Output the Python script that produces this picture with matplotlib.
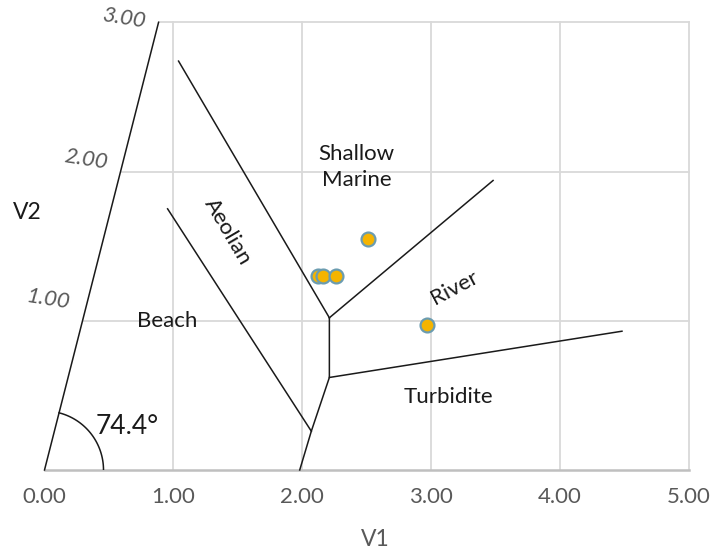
import numpy as np
import matplotlib
matplotlib.use("Agg")
import matplotlib.pyplot as plt

plt.rcParams["font.family"] = ["Lato", "DejaVu Sans"]

# axis ranges and tick values
x_ticks = [0.0, 1.0, 2.0, 3.0, 4.0, 5.0]
y_ticks = [1.0, 2.0, 3.0]
slant = 0.295          # V1 shift per unit V2 along the skewed V2 axis
axis_angle = "74.4°"

# sample points
v1 = [2.12, 2.16, 2.26, 2.51, 2.97]
v2 = [1.30, 1.30, 1.30, 1.55, 0.97]

# field boundaries (V1 list, V2 list)
boundaries = {
    "aeolian_upper": ([1.04, 2.21], [2.74, 1.02]),
    "beach_aeolian": ([0.955, 2.07], [1.75, 0.26]),
    "spine": ([2.21, 2.21, 2.07, 1.98], [1.02, 0.62, 0.26, 0.0]),
    "marine_river": ([2.21, 3.48], [1.02, 1.94]),
    "river_turbidite": ([2.21, 4.48], [0.62, 0.93]),
}

# field names: (text, V1, V2, rotation)
fields = [
    ("Shallow\nMarine", 2.42, 2.03, 0),
    ("Aeolian", 1.42, 1.60, -59.6),
    ("River", 3.18, 1.22, 28),
    ("Beach", 0.953, 1.0, 0),
    ("Turbidite", 3.135, 0.49, 0),
]

W, H, DPI = 712, 550, 100
fig = plt.figure(figsize=(W / DPI, H / DPI), dpi=DPI)
left, right, bottom, top = 44.5, 689, 470, 22.3
ax = fig.add_axes([left / W, 1 - bottom / H, (right - left) / W, (bottom - top) / H])
ax.set_xlim(0, 5)
ax.set_ylim(0, 3)
for s in ax.spines.values():
    s.set_visible(False)
ax.set_yticks([])
ax.set_xticks(x_ticks)
ax.set_xticklabels(["%.2f" % t for t in x_ticks])
ax.tick_params(axis="x", length=0, pad=12, labelsize=16, labelcolor="#595959")

grid_c = "#D9D9D9"
for x in x_ticks[1:]:
    ax.plot([x, x], [0, 3], color=grid_c, lw=1.3, zorder=1, clip_on=False)
for y in y_ticks:
    ax.plot([slant * y, 5], [y, y], color=grid_c, lw=1.3, zorder=1, clip_on=False)
ax.plot([0, 5], [0, 0], color="#BFBFBF", lw=1.8, zorder=1, clip_on=False)

# skewed V2 axis and its labels
ax.plot([0, slant * 3], [0, 3], color="#1a1a1a", lw=1.1, zorder=2, clip_on=False)
for y in y_ticks:
    ax.annotate("%.2f" % y, (slant * y, y), xytext=(-9, 6.5 * (3 - y)),
                textcoords="offset points", ha="right", va="center",
                rotation=-9, rotation_mode="anchor", fontsize=16,
                color="#595959", style="italic")

# angle arc at the origin (circular on screen)
px_x = (right - left) / 5
px_y = (bottom - top) / 3
r_px = 59
t_end = np.arctan2(px_y, slant * px_x)
t = np.linspace(0, t_end, 60)
ax.plot(r_px / px_x * np.cos(t), r_px / px_y * np.sin(t), color="#1a1a1a", lw=1.1, zorder=2)
ax.text(0.64, 0.29, axis_angle, fontsize=19, ha="center", va="center", color="#1a1a1a")

for xs, ys in boundaries.values():
    ax.plot(xs, ys, color="#1a1a1a", lw=1.1, zorder=2, clip_on=False)

for txt, x, y, rot in fields:
    ax.text(x, y, txt, fontsize=16, ha="center", va="center", rotation=rot,
            rotation_mode="anchor", color="#1a1a1a", linespacing=1.35)

ax.plot(v1, v2, "o", ms=10, mfc="#F5B400", mec="#6B9CB0", mew=1.6, zorder=4)

fig.text(27 / W, 1 - 213 / H, "V2", fontsize=16.5, ha="center", va="center", color="#1a1a1a")
fig.text(375 / W, 1 - 540 / H, "V1", fontsize=16.5, ha="center", va="center", color="#595959")

fig.savefig("out.png", dpi=DPI)
